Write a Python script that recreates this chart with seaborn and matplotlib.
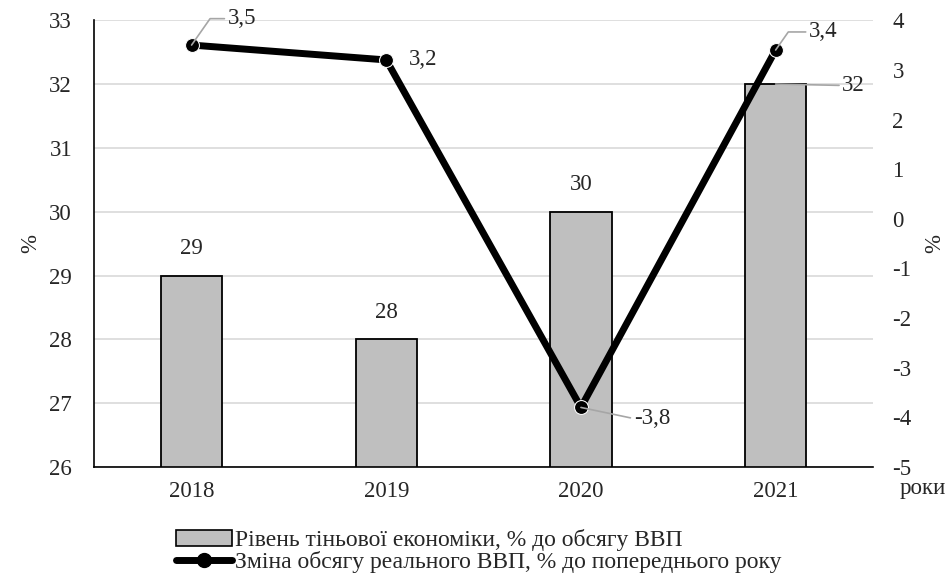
import matplotlib
matplotlib.use("Agg")
import matplotlib.pyplot as plt
import seaborn as sns
import pandas as pd
from matplotlib.lines import Line2D
from matplotlib.patches import Patch

years = ["2018", "2019", "2020", "2021"]
shadow = [29, 28, 30, 32]
gdp = [3.5, 3.2, -3.8, 3.4]
shadow_labels = ["29", "28", "30", "32"]
gdp_labels = ["3,5", "3,2", "-3,8", "3,4"]
left_ticks = [26, 27, 28, 29, 30, 31, 32, 33]
right_ticks = [-5, -4, -3, -2, -1, 0, 1, 2, 3, 4]
legend_bar = "Рівень тіньової економіки, % до обсягу ВВП"
legend_line = "Зміна обсягу реального ВВП, % до попереднього року"

sns.set_theme(style="white")
plt.rcParams['font.family'] = ['Liberation Serif', 'DejaVu Serif']
plt.rcParams['axes.unicode_minus'] = False
FS = 16.5
LFS = 17

df = pd.DataFrame({"year": years, "shadow": shadow, "gdp": gdp})

fig = plt.figure(figsize=(9.52, 5.78), dpi=100)
ax = fig.add_axes([0.099, 0.192, 0.818, 0.773])
sns.barplot(data=df, x="year", y="shadow", ax=ax, color="#BFBFBF",
            edgecolor="black", linewidth=1.3, width=0.315, saturation=1, zorder=2)
ax.set_ylim(26, 33)
ax.set_yticks(left_ticks)
ax.yaxis.grid(True, color="#D9D9D9", linewidth=1.2, zorder=0)
ax.set_axisbelow(True)
for s in ["top", "right"]:
    ax.spines[s].set_visible(False)
for s in ["bottom", "left"]:
    ax.spines[s].set_color("black")
    ax.spines[s].set_linewidth(1.2)
ax.set_xlabel("")
ax.set_ylabel("%", fontsize=FS, labelpad=6)
ax.tick_params(axis="both", labelsize=FS, length=0)
ax.tick_params(axis="x", pad=10)
ax.tick_params(axis="y", pad=16)

ax2 = ax.twinx()
sns.lineplot(x=list(range(len(years))), y=gdp, ax=ax2, color="black",
             linewidth=5, marker="o", markersize=10, zorder=3)
ax2.set_ylim(-5, 4)
ax2.set_yticks(right_ticks)
ax.set_xlim(-0.5, 3.5)
for s in ["top", "right", "left", "bottom"]:
    ax2.spines[s].set_visible(False)
ax2.tick_params(axis="y", labelsize=FS, length=0, pad=14)
ax2.set_ylabel("%", fontsize=FS, labelpad=9)

gray = dict(arrowstyle="-", color="#A6A6A6", lw=1.2, shrinkA=0, shrinkB=0)
elbow = dict(gray, connectionstyle="angle,angleA=0,angleB=55,rad=0")

# bar labels
for i, (v, t) in enumerate(zip(shadow, shadow_labels)):
    if i < 3:
        ax.annotate(t, (i, v), xytext=(0, 12), textcoords="offset points",
                    ha="center", va="bottom", fontsize=FS)
ax.annotate(shadow_labels[3], (3, shadow[3]), xytext=(48, -1), textcoords="offset points",
            ha="left", va="center", fontsize=FS,
            arrowprops=dict(gray, relpos=(0, 0.5)))

# line labels
ax2.annotate(gdp_labels[0], (0, gdp[0]), xytext=(26, 19), textcoords="offset points",
             ha="left", va="center", fontsize=FS, arrowprops=dict(elbow, relpos=(0, 0.5)))
ax2.annotate(gdp_labels[1], (1, gdp[1]), xytext=(16, 0), textcoords="offset points",
             ha="left", va="center", fontsize=FS)
ax2.annotate(gdp_labels[2], (2, gdp[2]), xytext=(38, -8), textcoords="offset points",
             ha="left", va="center", fontsize=FS, arrowprops=dict(gray, relpos=(0, 0.5)))
ax2.annotate(gdp_labels[3], (3, gdp[3]), xytext=(24, 13), textcoords="offset points",
             ha="left", va="center", fontsize=FS, arrowprops=dict(elbow, relpos=(0, 0.5)))

fig.text(0.993, 0.155, "роки", fontsize=FS, ha="right", va="center")

handles = [Patch(facecolor="#BFBFBF", edgecolor="black", linewidth=1.2),
           Line2D([0], [0], color="black", linewidth=5, marker="o", markersize=10)]
fig.legend(handles, [legend_bar, legend_line], loc="lower left", bbox_to_anchor=(0.182, 0.004),
           frameon=False, fontsize=LFS, handlelength=2.4, handletextpad=0.1,
           labelspacing=0.0, borderaxespad=0, borderpad=0.1)

fig.savefig("out.png", dpi=100)
